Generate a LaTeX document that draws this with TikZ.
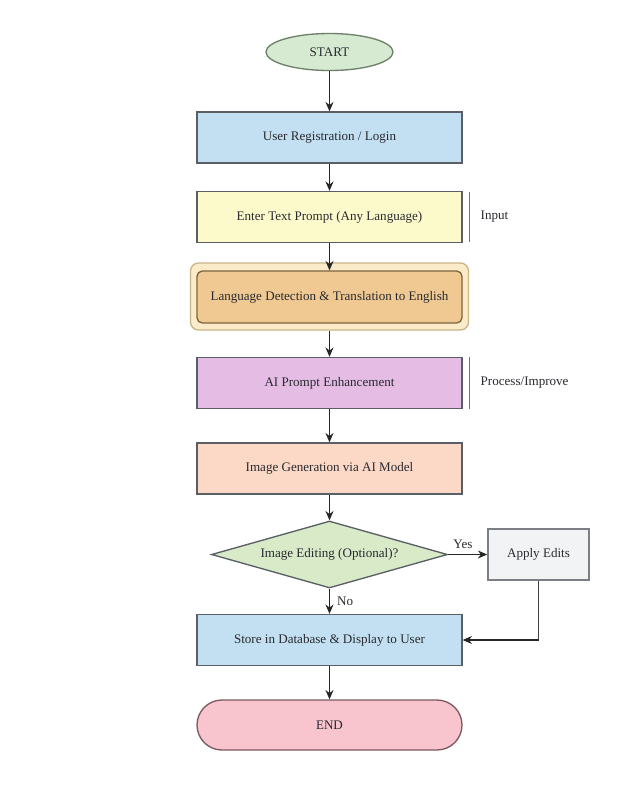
\documentclass[tikz,border=0pt]{standalone}
\usepackage{fontspec}
\setmainfont{Liberation Serif}
\usetikzlibrary{shapes.geometric,arrows.meta,positioning}
\definecolor{startfill}{HTML}{D6EAD2}
\definecolor{startdraw}{HTML}{6E7F6A}
\definecolor{bluefill}{HTML}{C2E0F2}
\definecolor{yellowfill}{HTML}{FCFACB}
\definecolor{outerfill}{HTML}{FCEBC8}
\definecolor{outerdraw}{HTML}{C9B48A}
\definecolor{innerfill}{HTML}{F0C992}
\definecolor{innerdraw}{HTML}{7E6440}
\definecolor{purplefill}{HTML}{E4BCE4}
\definecolor{peachfill}{HTML}{FBD9C6}
\definecolor{diamfill}{HTML}{D8EAC8}
\definecolor{greyfill}{HTML}{F2F3F5}
\definecolor{endfill}{HTML}{F8C4CD}
\definecolor{enddraw}{HTML}{7A5A60}
\definecolor{boxdraw}{HTML}{5A5F66}
\definecolor{txt}{HTML}{2A2A30}
\tikzset{
  every node/.style={font=\fontsize{9.8}{11}\selectfont, text=txt},
  procbox/.style={draw=boxdraw, line width=1pt, minimum width=265*0.75pt, minimum height=51*0.75pt, inner sep=0pt},
  arr/.style={-{Stealth[length=7pt,width=6pt]}, line width=0.9pt, draw=black!85},
  plain/.style={line width=0.9pt, draw=black!75},
  bracket/.style={line width=0.6pt, draw=black!55},
}
\begin{document}
\begin{tikzpicture}[x=0.75pt,y=-0.75pt]
\useasboundingbox (0,0) rectangle (627,801);
\fill[white] (0,0) rectangle (627,801);

\node[ellipse, draw=startdraw, line width=1pt, fill=startfill, minimum width=127*0.75pt, minimum height=37*0.75pt, inner sep=0pt] (start) at (329.5,52) {START};
\node[procbox, fill=bluefill] (reg) at (329.5,137.5) {User Registration / Login};
\node[procbox, fill=yellowfill] (prompt) at (329.5,217) {Enter Text Prompt (Any Language)};
\node[draw=outerdraw, fill=outerfill, line width=1pt, rounded corners=6pt, minimum width=278*0.75pt, minimum height=67*0.75pt, inner sep=0pt] (outer) at (329.5,296.5) {};
\node[draw=innerdraw, fill=innerfill, line width=1pt, rounded corners=4pt, minimum width=265*0.75pt, minimum height=52*0.75pt, inner sep=0pt] (lang) at (329.5,297) {Language Detection \& Translation to English};
\node[procbox, fill=purplefill] (enh) at (329.5,383) {AI Prompt Enhancement};
\node[procbox, fill=peachfill] (gen) at (329.5,468.5) {Image Generation via AI Model};
\node[diamond, aspect=3.52, draw=boxdraw, line width=1pt, fill=diamfill, minimum width=236*0.75pt, minimum height=67*0.75pt, inner sep=0pt] (edit) at (329.5,554.5) {};
\node at (329.5,554.5) {Image Editing (Optional)?};
\node[draw=boxdraw!80, line width=1.2pt, fill=greyfill, minimum width=101*0.75pt, minimum height=51*0.75pt, inner sep=0pt] (apply) at (538.5,554.5) {Apply Edits};
\node[procbox, fill=bluefill] (store) at (329.5,640) {Store in Database \& Display to User};
\node[draw=enddraw, line width=1pt, fill=endfill, rounded corners=25*0.75pt, minimum width=265*0.75pt, minimum height=50*0.75pt, inner sep=0pt] (end) at (329.5,725) {END};

\draw[arr] (start) -- (reg);
\draw[arr] (reg) -- (prompt);
\draw[arr] (prompt) -- (lang);
\draw[arr] (outer) -- (enh);
\draw[arr] (enh) -- (gen);
\draw[arr] (gen) -- (edit.north);
\draw[arr] (edit.east) -- node[above, pos=0.38, yshift=1pt] {Yes} (apply.west);
\draw[arr] (edit.south) -- node[right, pos=0.5, xshift=2pt] {No} (store.north);
\coordinate (corner) at (apply.south |- store.east);
\draw[plain] (apply.south) -- (corner);
\draw[arr] (corner) -- (store.east);
\draw[arr] (store) -- (end);

\coordinate (b1t) at (469,192);
\coordinate (b1b) at (469,242);
\draw[bracket] (b1t) -- (b1b);
\node[anchor=west] (inlab) at (476,217) {Input};
\coordinate (b2t) at (469,357);
\coordinate (b2b) at (469,409);
\draw[bracket] (b2t) -- (b2b);
\node[anchor=west] (proclab) at (476,383) {Process/Improve};
\end{tikzpicture}
\end{document}
